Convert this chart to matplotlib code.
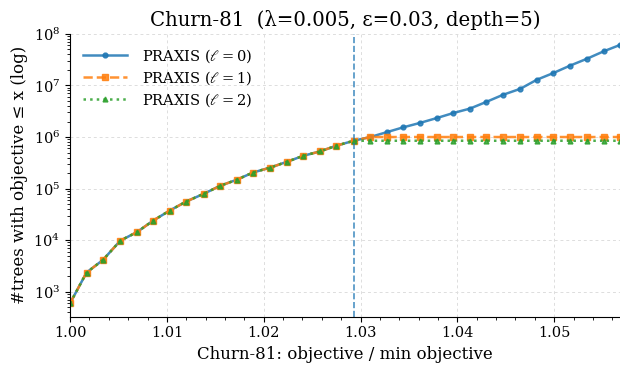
import numpy as np
import matplotlib
matplotlib.use("Agg")
import matplotlib.pyplot as plt
from matplotlib.ticker import MultipleLocator

plt.rcParams['font.family'] = 'DejaVu Serif'
plt.rcParams['mathtext.fontset'] = 'dejavuserif'

x = [1.0000, 1.0017, 1.0034, 1.0052, 1.0069, 1.0086, 1.0103, 1.0120, 1.0138,
     1.0155, 1.0172, 1.0189, 1.0207, 1.0224, 1.0241, 1.0258, 1.0275, 1.0293,
     1.0310, 1.0327, 1.0344, 1.0361, 1.0379, 1.0396, 1.0413, 1.0430, 1.0447,
     1.0465, 1.0482, 1.0499, 1.0516, 1.0534, 1.0551, 1.0568]

# shared part of the curves (first 18 points)
common = [596, 2344, 4130, 9800, 14260, 24000, 37500, 56100, 79100, 113000,
          148000, 205000, 256000, 331000, 433000, 525000, 678000, 847000]

l0 = common + [1.0e6, 1.24e6, 1.54e6, 1.87e6, 2.34e6, 2.93e6, 3.56e6, 4.81e6,
               6.58e6, 8.62e6, 1.29e7, 1.74e7, 2.41e7, 3.31e7, 4.59e7, 6.12e7]
l1 = common + [1.0e6] * 16
l2 = common + [847000] * 16

vline_x = 1.0293

fig, ax = plt.subplots(figsize=(6.2, 3.73), dpi=100)
fig.subplots_adjust(left=0.113, right=1.0, top=0.909, bottom=0.151)

ax.plot(x, l0, '-o', color='#1f77b4', lw=1.8, ms=3.5, alpha=0.85, label=r'PRAXIS ($\ell=0$)')
ax.plot(x, l1, '--s', color='#ff7f0e', lw=1.8, ms=4, alpha=0.85, label=r'PRAXIS ($\ell=1$)')
ax.plot(x, l2, ':^', color='#2ca02c', lw=1.8, ms=3.5, alpha=0.85, label=r'PRAXIS ($\ell=2$)')
ax.axvline(vline_x, color='#1f77b4', ls='--', lw=1.2, alpha=0.8)

ax.set_yscale('log')
ax.set_xlim(1.0, 1.0568)
ax.set_ylim(327, 1.0e8)
ax.xaxis.set_major_locator(MultipleLocator(0.01))
ax.xaxis.set_minor_locator(MultipleLocator(0.002))
ax.xaxis.set_major_formatter(matplotlib.ticker.FormatStrFormatter('%.2f'))

ax.grid(True, which='major', ls=(0, (3, 3)), color='#dddddd', lw=0.7)
ax.spines['top'].set_visible(False)
ax.spines['right'].set_visible(False)
ax.tick_params(labelsize=10.5)

ax.set_title('Churn-81  (λ=0.005, ε=0.03, depth=5)', fontsize=14.2)
ax.set_xlabel('Churn-81: objective / min objective', fontsize=12)
ax.set_ylabel('#trees with objective ≤ x (log)', fontsize=12)
ax.legend(loc='upper left', frameon=False, fontsize=10.5, handlelength=3.0,
          handletextpad=1.0, labelspacing=0.3, borderaxespad=0.5)

fig.savefig('out.png', dpi=100)
